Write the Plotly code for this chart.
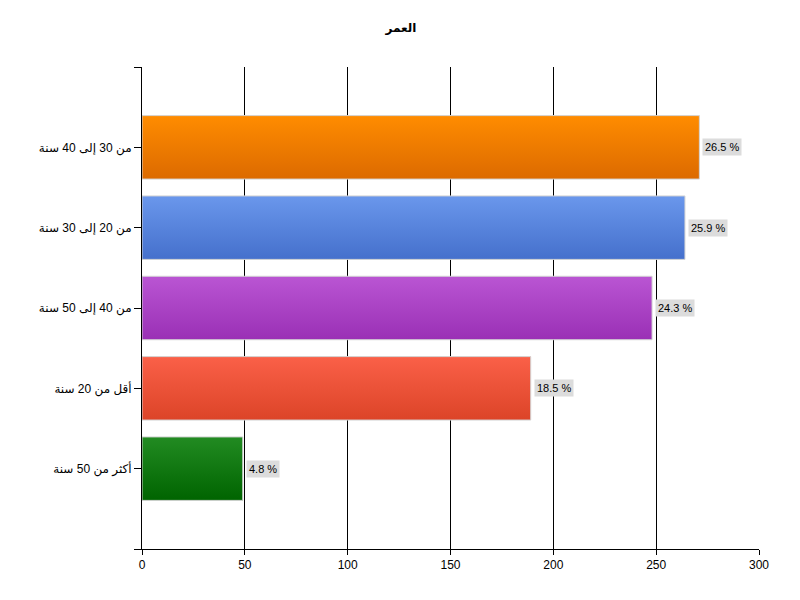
import plotly.graph_objects as go

categories = ["أكثر من 50 سنة", "أقل من 20 سنة", "من 40 إلى 50 سنة", "من 20 إلى 30 سنة", "من 30 إلى 40 سنة"]
values = [49, 189, 248, 264, 271]
percent_labels = ["4.8 %", "18.5 %", "24.3 %", "25.9 %", "26.5 %"]
top_colors = ["#228B22", "#FA6048", "#BA55D3", "#6A97EC", "#FF8C00"]
bottom_colors = ["#006400", "#DC4428", "#9A30B5", "#4570CC", "#DC6A00"]
x_ticks = [0, 50, 100, 150, 200, 250, 300]

bar_width = 0.79
font_family = "Liberation Sans, DejaVu Sans, Arial, sans-serif"

fig = go.Figure()
for i, (cat, v) in enumerate(zip(categories, values)):
    y0, y1 = i - bar_width / 2, i + bar_width / 2
    fig.add_trace(go.Scatter(
        x=[0, v, v, 0, 0],
        y=[y0, y0, y1, y1, y0],
        mode="lines",
        fill="toself",
        fillgradient=dict(type="vertical",
                          colorscale=[[0, bottom_colors[i]], [1, top_colors[i]]]),
        line=dict(color="#D3D3D3", width=1),
        name=cat,
        hoverinfo="skip",
        showlegend=False,
    ))
    fig.add_annotation(
        x=v, y=i, text=percent_labels[i], showarrow=False,
        xanchor="left", yanchor="middle", xshift=3,
        bgcolor="#DCDCDC", font=dict(size=11, color="black", family=font_family),
        borderpad=2,
    )

fig.update_layout(
    width=800, height=600,
    paper_bgcolor="white", plot_bgcolor="white",
    margin=dict(l=134, r=49, t=59, b=59),
    title=dict(text="<b>العمر</b>", x=(400 - 7) / 800, xanchor="center", y=1 - 20 / 600,
               yanchor="middle", font=dict(size=12, color="black", family=font_family)),
    font=dict(family=font_family, size=12, color="black"),
    showlegend=False,
)
fig.update_xaxes(
    range=[0, 300], tickvals=x_ticks, showgrid=True, gridcolor="black", gridwidth=1,
    showline=True, linecolor="black", linewidth=1, ticks="outside", ticklen=5,
    tickcolor="black", zeroline=False, fixedrange=True,
)
fig.update_yaxes(
    range=[-1, 5], tickvals=[-1, 0, 1, 2, 3, 4, 5],
    ticktext=[""] + categories + [""],
    showgrid=False, showline=True, linecolor="black", linewidth=1,
    ticks="outside", ticklen=7, tickcolor="black", zeroline=False, fixedrange=True,
)

fig.write_html("out.html")
